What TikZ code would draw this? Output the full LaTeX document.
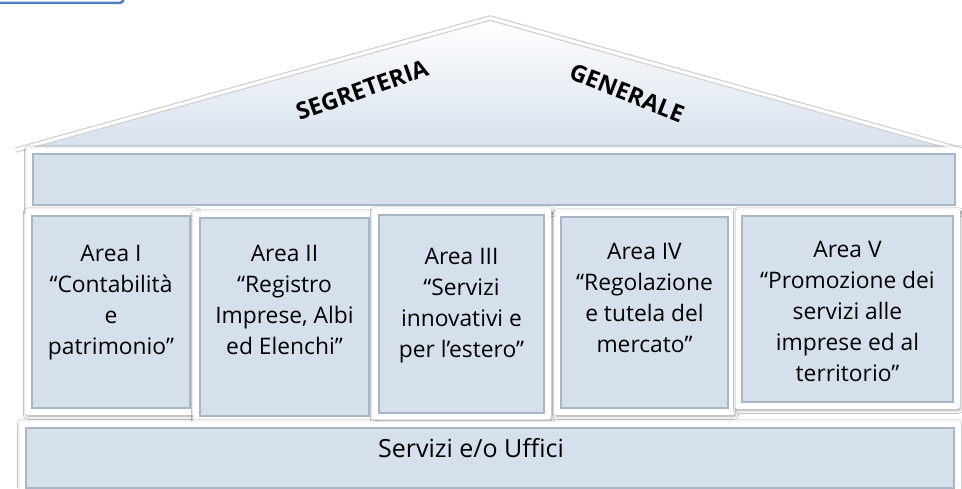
\documentclass[tikz,border=0pt]{standalone}
\usepackage{fontspec}
\setmainfont{Open Sans}
\usetikzlibrary{positioning, fit, backgrounds, shadows.blur}

\definecolor{areafill}{HTML}{D6E0EC}
\definecolor{areaedge}{HTML}{A9B6C5}
\definecolor{tabblue}{HTML}{4F81BD}

\begin{document}
\begin{tikzpicture}[x=1pt, y=-1pt,
			areabox/.style = {rectangle, fill=areafill, draw=areaedge,
				line width=1.5pt, inner sep=0pt},
			framebox/.style = {rectangle, rounded corners=2pt, fill=white,
				inner sep=6pt, blur shadow={shadow xshift=1pt, shadow yshift=-1.5pt,
				shadow blur radius=3pt, shadow opacity=35}},
			areatext/.style = {align=center, inner sep=0pt,
				font=\fontsize{22.8}{31}\selectfont},
			rooftext/.style = {inner sep=0pt, font=\bfseries\fontsize{23.5}{28}\selectfont},
			tabbox/.style = {rectangle, rounded corners=3pt, draw=tabblue,
				line width=2.5pt}]
	\path[use as bounding box] (0,0) rectangle (962,488);

	% tab at the top left
	\node[tabbox, minimum width=170pt, minimum height=40pt, anchor=south east] (tab) at (124.5,4) {};

	% roof corners
	\coordinate (roofL) at (16,150);
	\coordinate (apex) at (490,18);
	\coordinate (roofR) at (962,150);

	% beam, areas and base
	\node[areabox, minimum width=922pt, minimum height=51pt] (beam) at (494,179.5) {};
	\node[areabox, minimum width=158pt, minimum height=192pt] (area1) at (111,312) {};
	\node[areabox, minimum width=169pt, minimum height=198pt] (area2) at (284.5,317) {};
	\node[areabox, minimum width=165pt, minimum height=198pt] (area3) at (461.5,314) {};
	\node[areabox, minimum width=167pt, minimum height=191pt] (area4) at (644.5,312.5) {};
	\node[areabox, minimum width=211pt, minimum height=186pt] (area5) at (847.5,309) {};
	\node[areabox, minimum width=928pt, minimum height=60pt] (base) at (490,458) {};

	\node[areatext, below=30pt of area1.north] (txt1) {Area I\\“Contabilità\\e\\patrimonio”};
	\node[areatext, below=28pt of area2.north] (txt2) {Area II\\“Registro\\Imprese, Albi\\ed Elenchi”};
	\node[areatext, below=34pt of area3.north] (txt3) {Area III\\“Servizi\\innovativi e\\per l’estero”};
	\node[areatext, below=27pt of area4.north] (txt4) {Area IV\\“Regolazione\\e tutela del\\mercato”};
	\node[areatext, below=26pt of area5.north] (txt5) {Area V\\“Promozione dei\\servizi alle\\imprese ed al\\territorio”};
	\node[areatext, anchor=base, font=\fontsize{25}{30}\selectfont] (basetxt) at (471,457) {Servizi e/o Uffici};

	\node[rooftext, rotate=19.5] (seg) at (362,90) {SEGRETERIA};
	\node[rooftext, rotate=-21.5] (gen) at (627,93) {GENERALE};

	\begin{scope}[on background layer]
		\fill[white] (0,0) rectangle (962,488);
		\fill[top color=white, bottom color=areafill]
			(roofL) -- (apex) -- (roofR) -- cycle;
		\draw[draw=black!18, line width=5.5pt, line join=round] (roofL) -- (apex) -- (roofR);
		\draw[draw=white, line width=3pt, line join=round] (roofL) -- (apex) -- (roofR);
		\foreach \n in {beam, area1, area2, area3, area4, area5, base}
			\node[framebox, fit=(\n)] (frame-\n) {};
	\end{scope}
\end{tikzpicture}
\end{document}
